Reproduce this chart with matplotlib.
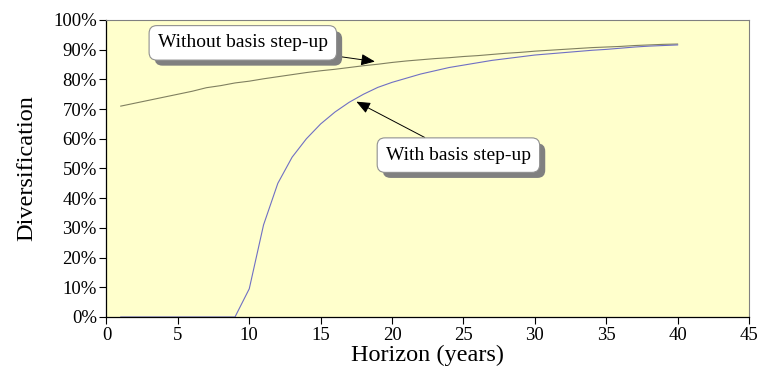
import matplotlib
matplotlib.use("Agg")
import matplotlib.pyplot as plt
import matplotlib.patheffects as pe
from matplotlib.ticker import PercentFormatter

plt.rcParams['font.family'] = ['Liberation Serif', 'DejaVu Serif']

# Data (diversification in %)
horizon = list(range(1, 41))
without_stepup = [71.0, 72.0, 73.0, 74.0, 75.0, 76.0, 77.2, 77.9, 78.8, 79.4,
                  80.2, 80.9, 81.6, 82.3, 82.9, 83.4, 84.0, 84.6, 85.1, 85.7,
                  86.2, 86.6, 87.0, 87.3, 87.7, 88.0, 88.4, 88.8, 89.1, 89.5,
                  89.8, 90.1, 90.4, 90.7, 90.9, 91.1, 91.4, 91.6, 91.8, 91.9]
with_stepup = [0.0, 0.0, 0.0, 0.0, 0.0, 0.0, 0.0, 0.0, 0.0, 9.5,
               31.0, 45.0, 53.8, 60.0, 65.0, 69.0, 72.3, 75.0, 77.3, 79.0,
               80.4, 81.8, 82.9, 84.0, 84.8, 85.6, 86.4, 87.0, 87.6, 88.2,
               88.6, 89.0, 89.4, 89.8, 90.1, 90.5, 90.9, 91.2, 91.4, 91.6]

fig = plt.figure(figsize=(7.59, 3.75), dpi=100)
ax = fig.add_axes([0.1403, 0.1547, 0.8465, 0.792])
ax.set_facecolor('#FFFFCC')

ax.plot(horizon, without_stepup, color='#808060', lw=0.8)
ax.plot(horizon, with_stepup, color='#6F6FC4', lw=0.8)

ax.set_xlim(0, 45)
ax.set_ylim(0, 100)
ax.set_xticks(range(0, 46, 5))
ax.set_yticks(range(0, 101, 10))
ax.yaxis.set_major_formatter(PercentFormatter(decimals=0))
ax.tick_params(direction='out', length=5, width=0.8, labelsize=13.5, pad=2)

for s in ('top', 'right'):
    ax.spines[s].set_color('#808080')
for s in ('left', 'bottom'):
    ax.spines[s].set_color('black')
    ax.spines[s].set_linewidth(0.9)

ax.set_xlabel('Horizon (years)', fontsize=17.5, labelpad=1)
ax.set_ylabel('Diversification', fontsize=17.5, labelpad=11)

shadow = [pe.SimplePatchShadow(offset=(4, -4), shadow_rgbFace='#808080', alpha=1.0), pe.Normal()]
box = dict(boxstyle='round,pad=0.45,rounding_size=0.4', fc='white', ec='#909090', lw=0.8,
           path_effects=shadow)
arrow = dict(arrowstyle='-|>,head_length=0.6,head_width=0.25', color='black', lw=0.7,
             shrinkA=0, shrinkB=0)

ax.annotate('Without basis step-up', xy=(18.8, 86.0), xytext=(9.55, 92.3),
            textcoords='data', ha='center', va='center', fontsize=14,
            bbox=box, arrowprops=arrow)
ax.annotate('With basis step-up', xy=(17.5, 72.5), xytext=(24.65, 54.5),
            textcoords='data', ha='center', va='center', fontsize=14,
            bbox=box, arrowprops=arrow)

fig.savefig('out.png', dpi=100)
